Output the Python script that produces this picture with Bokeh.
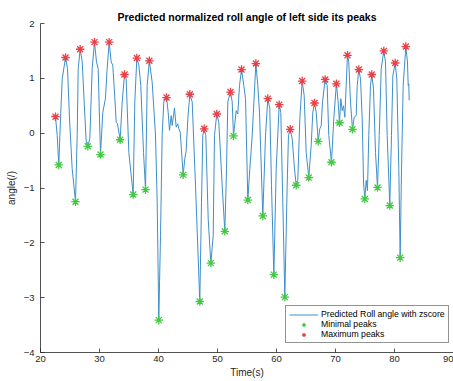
from bokeh.plotting import figure
from bokeh.models import Range1d, FixedTicker, Legend, LegendItem
from bokeh.embed import file_html
from bokeh.resources import INLINE

# ---- data ----
time_s = [22.54, 22.83, 23.10, 23.39, 23.68, 24.24, 24.58, 24.92, 25.37, 25.93,
          26.22, 26.39, 26.73, 27.07, 27.40, 27.75, 28.02, 28.36, 28.76, 29.15,
          29.49, 29.78, 30.00, 30.17, 30.56, 31.00, 31.30, 31.64, 31.98, 32.25,
          32.54, 32.83, 33.05, 33.50, 33.85, 34.24, 34.52, 34.97, 35.71, 35.98,
          36.33, 36.67, 37.00, 37.46, 37.80, 38.08, 38.45, 38.93, 39.49, 39.78,
          40.05, 40.34, 40.62, 40.90, 41.36, 41.64, 41.86, 42.15, 42.32, 42.71,
          43.00, 43.27, 43.44, 43.68, 44.18, 44.46, 44.69, 44.97, 45.31, 45.71,
          46.27, 47.00, 47.29, 47.51, 47.74, 48.02, 48.42, 48.87, 49.27, 49.49,
          49.88, 50.22, 50.79, 51.24, 51.53, 51.75, 52.20, 52.49, 52.71, 53.17,
          53.44, 53.73, 54.07, 54.46, 54.75, 55.14, 55.48, 55.88, 56.50, 56.83,
          57.12, 57.68, 58.14, 58.53, 58.86, 59.15, 59.55, 59.95, 60.46, 60.73,
          61.07, 61.41, 61.81, 62.03, 62.32, 62.66, 63.05, 63.34, 63.61, 63.95,
          64.35, 64.69, 65.03, 65.47, 65.88, 66.15, 66.44, 66.73, 67.07, 67.34,
          67.58, 67.80, 68.25, 68.59, 68.86, 69.32, 69.71, 70.15, 70.45, 70.68,
          70.90, 71.14, 71.36, 71.58, 71.81, 72.03, 72.25, 72.54, 72.88, 73.16,
          73.51, 73.68, 73.95, 74.24, 74.53, 74.75, 74.97, 75.20, 75.42, 75.64,
          75.93, 76.15, 76.44, 76.78, 77.12, 77.41, 77.75, 78.19, 78.47, 78.76,
          79.20, 79.49, 79.72, 80.12, 80.39, 80.73, 80.96, 81.19, 81.47, 81.92,
          82.20, 82.32, 82.42, 82.49]
angle = [0.30, -0.04, -0.58, 0.26, 0.99, 1.38, 1.18, 0.26, -0.65, -1.25,
         -0.04, 1.18, 1.53, 1.30, 0.57, -0.16, -0.24, -0.10, 1.18, 1.66,
         1.30, 1.18, 0.26, -0.39, 0.38, 0.63, 1.18, 1.66, 1.30, 1.24,
         0.75, 0.20, 0.17, -0.12, 0.57, 1.07, 0.99, -0.35, -1.12, 0.57,
         1.37, 1.24, 0.87, -0.35, -1.03, 0.87, 1.32, 0.93, -0.04, -1.26,
         -3.41, -1.87, -0.04, 0.57, 0.65, 0.38, 0.05, 0.32, 0.14, 0.46,
         0.11, 0.17, 0.08, 0.02, -0.76, -0.47, -0.32, 0.26, 0.71, 0.57,
         -0.95, -3.07, -1.26, -0.04, 0.08, -0.04, -1.56, -2.37, -1.87, -0.04,
         0.35, 0.20, -0.95, -1.79, -0.65, 0.57, 0.75, 0.57, -0.05, 0.41,
         0.35, 0.87, 1.16, 0.87, 0.63, -1.22, -0.65, -0.04, 1.27, 0.87,
         0.38, -1.51, -0.04, 0.63, 0.45, -0.95, -2.58, -0.65, 0.52, 0.38,
         -1.26, -2.99, -0.95, -0.04, 0.07, -0.10, -0.65, -0.95, -0.86, 0.26,
         0.95, 0.69, -0.35, -0.81, -0.22, 0.38, 0.55, 0.38, -0.15, 0.08,
         0.14, 0.57, 0.98, 0.87, -0.04, -0.53, 0.26, 0.90, 0.57, 0.19,
         0.63, 0.41, 0.50, 0.29, 0.87, 1.42, 1.30, 0.57, 0.07, 0.29,
         0.32, 0.87, 1.16, 0.99, 0.26, -0.89, -1.20, -0.86, -1.05, -0.04,
         0.87, 1.07, 0.81, -0.35, -0.99, -0.04, 1.18, 1.50, 1.30, -0.04,
         -1.32, -0.04, 1.05, 1.28, 0.99, -0.65, -2.27, -0.65, 0.87, 1.58,
         1.30, 0.87, 0.90, 0.60]

max_t = [22.54, 24.24, 26.73, 29.15, 31.64, 34.24, 36.33, 38.45, 41.36, 45.31,
         47.74, 49.88, 52.20, 54.07, 56.50, 58.53, 60.46, 62.32, 64.35, 66.44,
         68.25, 70.15, 72.03, 73.95, 76.15, 78.19, 80.12, 81.92]
max_v = [0.30, 1.38, 1.53, 1.66, 1.66, 1.07, 1.37, 1.32, 0.65, 0.71,
         0.08, 0.35, 0.75, 1.16, 1.27, 0.63, 0.52, 0.07, 0.95, 0.55,
         0.98, 0.90, 1.42, 1.16, 1.07, 1.50, 1.28, 1.58]

min_t = [23.10, 25.93, 28.02, 30.17, 33.50, 35.71, 37.80, 40.05, 44.18, 47.00,
         48.87, 51.24, 52.71, 55.14, 57.68, 59.55, 61.41, 63.34, 65.47, 67.07,
         69.32, 70.68, 72.88, 74.97, 77.12, 79.20, 80.96]
min_v = [-0.58, -1.25, -0.24, -0.39, -0.12, -1.12, -1.03, -3.41, -0.76, -3.07,
         -2.37, -1.79, -0.05, -1.22, -1.51, -2.58, -2.99, -0.95, -0.81, -0.15,
         -0.53, 0.19, 0.07, -1.20, -0.99, -1.32, -2.27]

x_ticks = [20, 30, 40, 50, 60, 70, 80, 90]
y_ticks = [-4, -3, -2, -1, 0, 1, 2]

title_text = "Predicted normalized roll angle of left side its peaks"
x_label = "Time(s)"
y_label = "angle(/)"
series_labels = ["Predicted Roll angle with zscore", "Minimal peaks", "Maximum peaks"]

FONT = "Liberation Sans"
TXT = "#262626"

p = figure(frame_width=413, frame_height=329, output_backend="svg",
           toolbar_location=None,
           x_range=Range1d(20, 90), y_range=Range1d(-4, 2),
           min_border_left=40, min_border_right=0, min_border_top=23,
           min_border_bottom=29, title=title_text)
p.outline_line_color = None
p.grid.visible = False
p.background_fill_color = "white"
p.border_fill_color = "white"

p.title.align = "center"
p.title.text_font = FONT
p.title.text_font_size = "10.5px"
p.title.text_font_style = "bold"
p.title.text_color = "#000000"
p.title.standoff = 2

for ax in (p.xaxis[0], p.yaxis[0]):
    ax.axis_line_color = TXT
    ax.axis_line_width = 0.8
    ax.major_tick_line_color = TXT
    ax.major_tick_line_width = 0.8
    ax.major_tick_in = 4
    ax.major_tick_out = 0
    ax.minor_tick_line_color = None
    ax.major_label_text_font = FONT
    ax.major_label_text_font_size = "9.5px"
    ax.major_label_text_color = TXT
    ax.axis_label_text_font = FONT
    ax.axis_label_text_font_size = "10px"
    ax.axis_label_text_font_style = "normal"
    ax.axis_label_text_color = TXT

p.xaxis[0].ticker = FixedTicker(ticks=x_ticks)
p.yaxis[0].ticker = FixedTicker(ticks=y_ticks)
p.xaxis[0].axis_label = x_label
p.yaxis[0].axis_label = y_label
p.xaxis[0].major_label_standoff = 3
p.xaxis[0].axis_label_standoff = 2
p.yaxis[0].major_label_standoff = 6
p.yaxis[0].axis_label_standoff = 4

r_line = p.line(time_s, angle, line_color="#3d8fca", line_width=1.0)
r_min = p.scatter(min_t, min_v, marker="asterisk", size=8.5, line_color="#44c944",
                  line_width=1.3)
r_max = p.scatter(max_t, max_v, marker="asterisk", size=8.5, line_color="#ea3f47",
                  line_width=1.3)

legend = Legend(items=[LegendItem(label=series_labels[0], renderers=[r_line]),
                       LegendItem(label=series_labels[1], renderers=[r_min]),
                       LegendItem(label=series_labels[2], renderers=[r_max])],
                location=(245, 9))
legend.label_text_font = FONT
legend.label_text_font_size = "8.7px"
legend.label_text_color = "#000000"
legend.label_height = 9
legend.label_standoff = 3
legend.glyph_width = 29
legend.glyph_height = 9
legend.spacing = 0
legend.padding = 3
legend.margin = 0
legend.border_line_color = TXT
legend.border_line_width = 0.8
legend.background_fill_color = "white"
legend.background_fill_alpha = 1.0
p.add_layout(legend, "center")

open("out.html", "w").write(file_html(p, INLINE))
